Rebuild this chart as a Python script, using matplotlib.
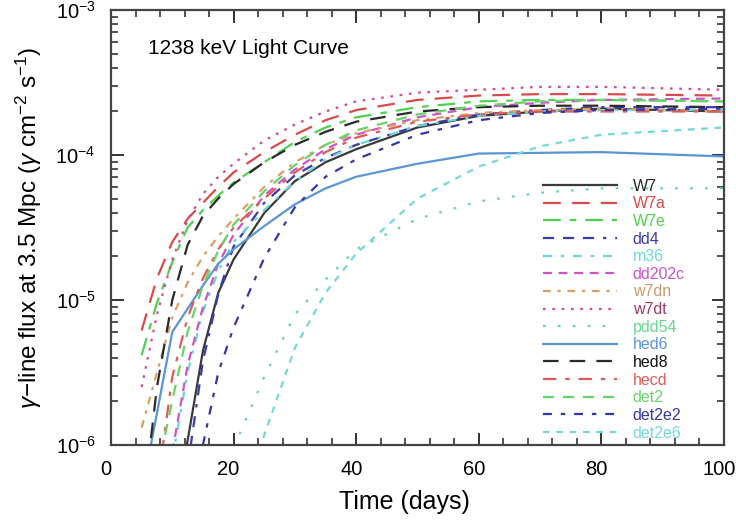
import matplotlib
matplotlib.use("Agg")
import matplotlib.pyplot as plt
import matplotlib.transforms as mtransforms
import numpy as np
from matplotlib.ticker import MultipleLocator, LogLocator, NullFormatter

nan = np.nan
days = [5, 7.5, 10, 12.5, 15, 17.5, 20, 25, 30, 35, 40, 50, 60, 70, 80, 100]

W7     = [nan, nan, -6.6, -5.97, -5.35, -4.95, -4.72, -4.40, -4.18, -4.05, -3.96, -3.81, -3.73, -3.70, -3.68, -3.70]
W7a    = [-5.21, -4.85, -4.60, -4.44, -4.33, -4.22, -4.12, -3.98, -3.86, -3.76, -3.69, -3.62, -3.59, -3.58, -3.58, -3.59]
W7e    = [-5.38, -5.02, -4.74, -4.50, -4.38, -4.28, -4.19, -4.05, -3.91, -3.81, -3.74, -3.67, -3.63, -3.62, -3.62, -3.63]
dd4    = [nan, nan, nan, -6.15, -5.42, -4.96, -4.63, -4.33, -4.14, -4.02, -3.93, -3.80, -3.72, -3.69, -3.67, -3.67]
m36    = [nan, nan, -6.10, -5.50, -5.08, -4.80, -4.60, -4.38, -4.18, -4.03, -3.93, -3.80, -3.73, -3.70, -3.69, -3.69]
dd202c = [nan, nan, -6.05, -5.45, -5.05, -4.75, -4.55, -4.28, -4.10, -3.96, -3.86, -3.74, -3.67, -3.64, -3.62, -3.61]
w7dn   = [-5.88, -5.50, -5.12, -4.88, -4.70, -4.56, -4.44, -4.22, -4.05, -3.93, -3.85, -3.76, -3.71, -3.69, -3.68, -3.70]
w7dt   = [-5.60, -5.10, -4.72, -4.45, -4.27, -4.15, -4.06, -3.90, -3.79, -3.70, -3.63, -3.57, -3.55, -3.53, -3.53, -3.55]
pdd54  = [nan, nan, nan, nan, nan, nan, -6.02, -5.53, -5.10, -4.86, -4.65, -4.44, -4.32, -4.26, -4.23, -4.23]
hed6   = [-6.33, -5.78, -5.22, -5.06, -4.90, -4.75, -4.65, -4.49, -4.34, -4.23, -4.15, -4.06, -3.99, -3.985, -3.98, -4.01]
hed8   = [-6.5, -5.60, -5.00, -4.62, -4.42, -4.30, -4.20, -4.05, -3.93, -3.84, -3.77, -3.70, -3.67, -3.66, -3.66, -3.67]
hecd   = [nan, -6.30, -5.53, -5.12, -4.85, -4.65, -4.50, -4.30, -4.12, -3.98, -3.88, -3.77, -3.72, -3.70, -3.70, -3.70]
det2   = [nan, -6.20, -5.69, -5.22, -4.90, -4.66, -4.48, -4.25, -4.07, -3.93, -3.83, -3.72, -3.66, -3.63, -3.62, -3.63]
det2e2 = [nan, nan, nan, nan, -6.00, -5.50, -5.19, -4.71, -4.36, -4.15, -4.03, -3.86, -3.76, -3.71, -3.69, -3.68]
det2e6 = [nan, nan, nan, nan, nan, nan, -6.70, -5.93, -5.33, -4.95, -4.68, -4.30, -4.08, -3.94, -3.86, -3.81]

names = ["W7", "W7a", "W7e", "dd4", "m36", "dd202c", "w7dn", "w7dt",
         "pdd54", "hed6", "hed8", "hecd", "det2", "det2e2", "det2e6"]
series = [W7, W7a, W7e, dd4, m36, dd202c, w7dn, w7dt,
          pdd54, hed6, hed8, hecd, det2, det2e2, det2e6]

colors = ["#3a3a3a", "#d94a4a", "#4fd04f", "#3b3bb0", "#6cd6d6", "#c955c9",
          "#dba065", "#d04a98", "#66d6a0", "#5a95d6", "#2a2a2a", "#e05a5a",
          "#66d466", "#3636a8", "#72d8d8"]
text_colors = ["#222222", "#d94a4a", "#4fd04f", "#3b3bb0", "#6cd6d6", "#c955c9",
               "#c99a6a", "#9b3a6a", "#66d690", "#5a95d6", "#111111", "#e05a5a",
               "#66d466", "#3636a8", "#72d8d8"]
styles = ["-", (0, (8, 5)), (0, (8, 4, 3, 4)), (0, (5, 4, 5, 4, 5, 4, 1.5, 4)),
          (0, (4, 4, 1.5, 4)), (0, (4, 3)), (0, (3.5, 3, 1.5, 3)), (0, (1.2, 3)),
          (0, (1.2, 5.5)), "-", (0, (7, 5)), (0, (6, 4, 2, 4)), (0, (5, 4)),
          (0, (4, 4, 2, 4)), (0, (3, 3))]

plt.rcParams['font.family'] = ['Liberation Sans', 'DejaVu Sans']
plt.rcParams['mathtext.fontset'] = 'custom'
plt.rcParams['mathtext.rm'] = 'Liberation Sans'
plt.rcParams['mathtext.it'] = 'Liberation Sans:italic'
plt.rcParams['mathtext.bf'] = 'Liberation Sans:bold'

fig = plt.figure(figsize=(7.36, 5.27), dpi=100)
ax = fig.add_axes([0.1508, 0.1556, 0.8329, 0.8254])

for name, vals, c, ls in zip(names, series, colors, styles):
    ax.plot(days, 10 ** np.array(vals), color=c, linestyle=ls, lw=1.6, label=name)

ax.set_yscale("log")
ax.set_xlim(0, 100)
ax.set_ylim(1e-6, 1e-3)
ax.xaxis.set_major_locator(MultipleLocator(20))
ax.xaxis.set_minor_locator(MultipleLocator(4))
ax.yaxis.set_minor_locator(LogLocator(base=10, subs=np.arange(2, 10)))
ax.yaxis.set_minor_formatter(NullFormatter())

ax.tick_params(which='both', direction='in', top=True, right=True, labelsize=14.5,
               color='#333333', pad=11)
ax.tick_params(which='major', length=9, width=1.4)
ax.tick_params(which='minor', length=5, width=1.2)
for s in ax.spines.values():
    s.set_linewidth(1.6)
    s.set_color('#444444')

# x tick labels sit a few pixels left of their ticks in the reference
shift = mtransforms.ScaledTranslation(-5 / 100, 0, fig.dpi_scale_trans)
for lab in ax.get_xticklabels():
    lab.set_transform(lab.get_transform() + shift)

ax.set_xlabel("Time (days)", fontsize=18, labelpad=6)
ax.xaxis.set_label_coords(0.478, -0.103)
ax.set_ylabel(r"$\gamma$−line flux at 3.5 Mpc ($\gamma$ cm$^{-2}$ s$^{-1}$)", fontsize=17.5, labelpad=8)
ax.text(0.06, 0.912, "1238 keV Light Curve", transform=ax.transAxes, fontsize=15, va='center')

leg = ax.legend(loc='upper left', bbox_to_anchor=(0.695, 0.627), frameon=False,
                fontsize=11.5, handlelength=4.6, handletextpad=1.0,
                labelspacing=0.165, borderaxespad=0)
for t, c in zip(leg.get_texts(), text_colors):
    t.set_color(c)

fig.savefig("out.png", dpi=100)
